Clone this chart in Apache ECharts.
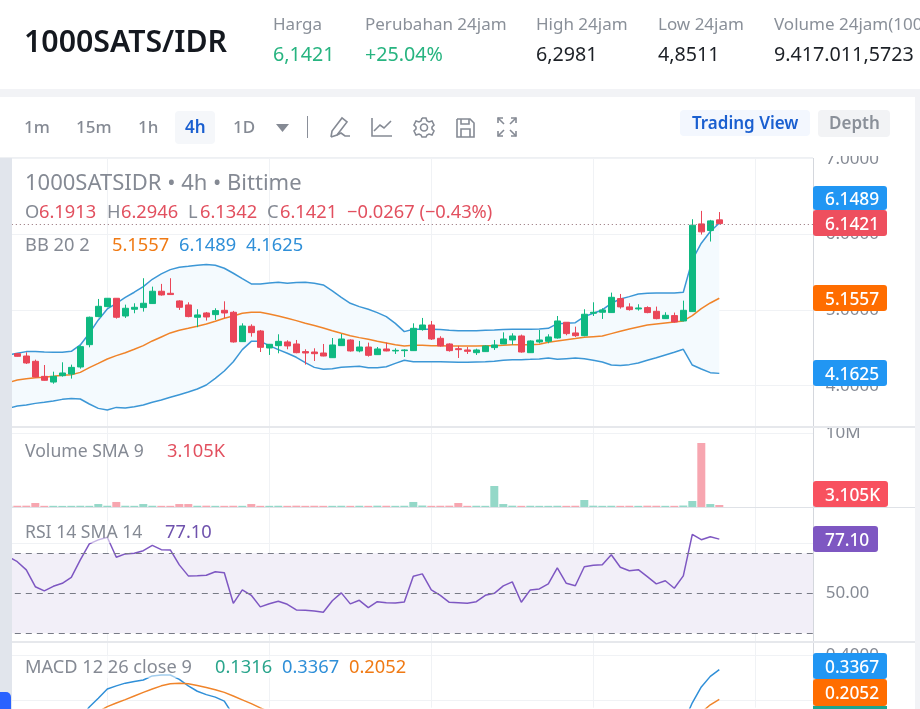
<!DOCTYPE html>
<html>
<head>
<meta charset="utf-8">
<title>1000SATS/IDR</title>
<script src="https://cdn.jsdelivr.net/npm/echarts@6/dist/echarts.min.js"></script>
<style>
  html, body { margin: 0; padding: 0; background: #fff; }
  #chart { width: 920px; height: 709px; }
</style>
</head>
<body>
<div id="chart"></div>
<script>
// 4h candles, first one is cut off by the left edge of the chart
var opens = [4.41,
  4.423, 4.392, 4.322, 4.123, 4.048, 4.132, 4.154, 4.247, 4.542, 4.913,
  5.045, 5.155, 4.921, 5.010, 5.032, 5.085, 5.248, 5.221, 5.120, 5.067,
  4.904, 4.961, 4.939, 4.996, 4.970, 4.582, 4.785, 4.723, 4.498, 4.529,
  4.578, 4.551, 4.450, 4.445, 4.432, 4.370, 4.529, 4.604, 4.459, 4.511,
  4.410, 4.485, 4.459, 4.463, 4.463, 4.741, 4.802, 4.626, 4.551, 4.489,
  4.472, 4.436, 4.450, 4.503, 4.551, 4.604, 4.657, 4.436, 4.578, 4.586,
  4.630, 4.838, 4.697, 4.661, 4.957, 4.970, 4.966, 5.151, 5.041, 5.014,
  5.032, 4.983, 4.886, 4.926, 4.855, 4.979, 6.138, 6.050, 6.1913];
var closes = [4.42,
  4.388, 4.300, 4.115, 4.071, 4.123, 4.168, 4.242, 4.516, 4.904, 5.049,
  5.155, 4.904, 5.023, 5.036, 5.089, 5.248, 5.199, 5.204, 5.036, 4.913,
  4.935, 4.908, 4.992, 4.961, 4.578, 4.789, 4.701, 4.507, 4.547, 4.586,
  4.525, 4.436, 4.432, 4.423, 4.392, 4.538, 4.617, 4.459, 4.511, 4.401,
  4.485, 4.459, 4.467, 4.472, 4.758, 4.802, 4.617, 4.525, 4.463, 4.476,
  4.454, 4.472, 4.525, 4.538, 4.617, 4.657, 4.445, 4.591, 4.604, 4.644,
  4.855, 4.688, 4.661, 4.944, 4.970, 5.001, 5.168, 5.041, 5.005, 5.027,
  4.966, 4.886, 4.930, 4.842, 4.996, 6.121, 6.033, 6.178, 6.1421];
var lows = [4.40,
  4.384, 4.287, 4.110, 4.066, 4.026, 4.119, 4.093, 4.225, 4.507, 4.904,
  5.036, 4.886, 4.895, 4.957, 4.979, 5.080, 5.190, 5.199, 5.001, 4.904,
  4.772, 4.860, 4.869, 4.895, 4.569, 4.578, 4.648, 4.445, 4.406, 4.428,
  4.481, 4.428, 4.278, 4.326, 4.388, 4.366, 4.525, 4.450, 4.441, 4.384,
  4.406, 4.454, 4.419, 4.379, 4.459, 4.727, 4.604, 4.516, 4.450, 4.366,
  4.419, 4.406, 4.445, 4.472, 4.551, 4.542, 4.436, 4.432, 4.560, 4.560,
  4.622, 4.666, 4.644, 4.653, 4.921, 4.882, 4.961, 5.018, 4.992, 4.992,
  4.957, 4.877, 4.882, 4.833, 4.851, 4.974, 5.997, 5.905, 6.1342];
var highs = [4.43,
  4.432, 4.441, 4.344, 4.273, 4.185, 4.309, 4.278, 4.533, 4.913, 5.146,
  5.155, 5.155, 5.071, 5.089, 5.420, 5.309, 5.345, 5.420, 5.129, 5.102,
  5.010, 4.974, 5.023, 5.115, 4.988, 4.824, 4.811, 4.736, 4.551, 4.679,
  4.600, 4.604, 4.481, 4.494, 4.551, 4.630, 4.683, 4.613, 4.591, 4.569,
  4.511, 4.569, 4.494, 4.481, 4.824, 4.895, 4.855, 4.653, 4.560, 4.525,
  4.511, 4.489, 4.534, 4.604, 4.705, 4.692, 4.675, 4.600, 4.736, 4.679,
  4.921, 4.838, 4.780, 5.010, 5.102, 5.023, 5.230, 5.212, 5.089, 5.076,
  5.049, 5.045, 4.970, 4.966, 5.124, 6.200, 6.310, 6.191, 6.2946];

// Bollinger bands
var bbMiddle = [4.040,
  4.075, 4.093, 4.106, 4.110, 4.123, 4.137, 4.145, 4.176, 4.238, 4.295,
  4.353, 4.397, 4.436, 4.481, 4.529, 4.591, 4.644, 4.697, 4.732, 4.758,
  4.785, 4.816, 4.851, 4.891, 4.921, 4.957, 4.970, 4.970, 4.948, 4.921,
  4.891, 4.860, 4.824, 4.794, 4.763, 4.727, 4.692, 4.661, 4.635, 4.613,
  4.586, 4.564, 4.542, 4.525, 4.533, 4.533, 4.529, 4.529, 4.525, 4.525,
  4.525, 4.525, 4.529, 4.529, 4.533, 4.542, 4.542, 4.542, 4.547, 4.573,
  4.591, 4.608, 4.622, 4.639, 4.648, 4.657, 4.688, 4.719, 4.750, 4.776,
  4.802, 4.816, 4.829, 4.842, 4.855, 4.926, 5.018, 5.093, 5.1557];
var bbUpper = [4.406,
  4.428, 4.450, 4.450, 4.445, 4.441, 4.441, 4.454, 4.538, 4.692, 4.869,
  5.014, 5.089, 5.168, 5.235, 5.309, 5.406, 5.477, 5.534, 5.565, 5.578,
  5.592, 5.600, 5.592, 5.552, 5.486, 5.415, 5.345, 5.345, 5.358, 5.367,
  5.354, 5.362, 5.367, 5.354, 5.332, 5.252, 5.168, 5.089, 5.045, 5.010,
  4.966, 4.913, 4.824, 4.714, 4.745, 4.745, 4.745, 4.741, 4.732, 4.727,
  4.727, 4.727, 4.732, 4.736, 4.741, 4.745, 4.745, 4.745, 4.750, 4.758,
  4.820, 4.824, 4.833, 4.913, 4.957, 5.001, 5.089, 5.146, 5.177, 5.212,
  5.221, 5.226, 5.226, 5.226, 5.235, 5.662, 5.883, 6.037, 6.1489];
var bbLower = [3.700,
  3.731, 3.744, 3.766, 3.780, 3.797, 3.819, 3.832, 3.824, 3.758, 3.700,
  3.678, 3.713, 3.705, 3.722, 3.744, 3.780, 3.810, 3.846, 3.881, 3.916,
  3.956, 4.009, 4.097, 4.194, 4.317, 4.476, 4.586, 4.586, 4.529, 4.476,
  4.428, 4.375, 4.304, 4.242, 4.216, 4.225, 4.242, 4.251, 4.256, 4.238,
  4.238, 4.251, 4.295, 4.335, 4.317, 4.317, 4.317, 4.317, 4.313, 4.309,
  4.309, 4.313, 4.317, 4.322, 4.335, 4.344, 4.344, 4.348, 4.353, 4.366,
  4.348, 4.357, 4.366, 4.357, 4.335, 4.313, 4.273, 4.265, 4.278, 4.300,
  4.335, 4.370, 4.406, 4.441, 4.481, 4.273, 4.220, 4.172, 4.1625];

// volume, in millions
var volumes = [0.17,
  0.17, 0.18, 0.54, 0.16, 0.16, 0.15, 0.16, 0.17, 0.16, 0.40,
  0.17, 0.68, 0.17, 0.16, 0.40, 0.17, 0.16, 0.16, 0.40, 0.40,
  0.17, 0.18, 0.16, 0.16, 0.17, 0.16, 0.40, 0.16, 0.16, 0.17,
  0.16, 0.18, 0.16, 0.17, 0.16, 0.16, 0.17, 0.16, 0.17, 0.16,
  0.18, 0.17, 0.16, 0.17, 0.68, 0.20, 0.16, 0.17, 0.18, 0.54,
  0.16, 0.17, 0.16, 2.84, 0.40, 0.18, 0.16, 0.17, 0.16, 0.16,
  0.17, 0.16, 0.17, 0.95, 0.18, 0.16, 0.17, 0.16, 0.17, 0.16,
  0.18, 0.17, 0.16, 0.16, 0.20, 0.81, 8.65, 0.40, 0.27];

var rsi = [68.3,
  65.8, 61.7, 53.3, 51.2, 53.5, 55.0, 58.0, 66.7, 74.7, 76.7,
  78.0, 68.0, 69.7, 70.0, 71.3, 74.0, 71.8, 71.7, 64.2, 58.7,
  58.8, 59.0, 60.8, 60.3, 45.0, 51.7, 49.0, 43.2, 44.8, 46.0,
  44.5, 41.7, 41.5, 41.2, 40.5, 46.3, 50.2, 44.7, 46.5, 42.8,
  45.8, 45.3, 45.2, 45.7, 58.5, 59.7, 51.7, 49.0, 45.5, 45.3,
  45.0, 45.8, 49.0, 50.0, 53.7, 55.7, 45.5, 51.7, 52.2, 54.7,
  62.7, 55.0, 53.8, 63.3, 64.0, 64.3, 69.3, 63.0, 61.3, 61.8,
  58.3, 54.7, 56.3, 52.5, 58.7, 79.5, 76.8, 78.3, 77.1];

// only the part of MACD that shows above the window edge
var macdLine = [null, null, null, null, null, null, null, null,
  0.120, 0.171, 0.210, 0.251, 0.265, 0.277, 0.284, 0.291, 0.309, 0.313, 0.313, 0.294, 0.265,
  0.241, 0.226, 0.215, 0.197, 0.135, null, null, null, null, null,
  null, null, null, null, null, null, null, null, null, null,
  null, null, null, null, null, null, null, null, null, null,
  null, null, null, null, null, null, null, null, null, null,
  null, null, null, null, null, null, null, null, null, null,
  null, null, null, null, 0.100, 0.190, 0.260, 0.307, 0.3367];
var signalLine = [null, null, null, null, null, null, null, null, null,
  null, 0.150, 0.173, 0.189, 0.204, 0.220, 0.236, 0.251, 0.265, 0.274, 0.276, 0.274,
  0.267, 0.258, 0.248, 0.236, 0.220, 0.203, 0.186, 0.167, 0.150, null,
  null, null, null, null, null, null, null, null, null, null,
  null, null, null, null, null, null, null, null, null, null,
  null, null, null, null, null, null, null, null, null, null,
  null, null, null, null, null, null, null, null, null, null,
  null, null, null, null, null, null, 0.147, 0.181, 0.2052];

// tick labels on the right side
var priceTicks = [4, 5, 6, 7];
var volumeTicks = [10000000];
var rsiTicks = [50, 75];
var macdTicks = [0.2, 0.4];

// last close, the dotted price line sits on it
var lastPrice = 6.1421;

// the axis goes on past the last candle, 90 slots in all
var categories = [];
for (var n = 0; n < 90; n++) categories.push(String(n));

var GREEN = '#0fb981';
var RED = '#ea4658';
var BLUE = '#2196f3';
var ORANGE = '#ff6d00';
var PURPLE = '#7e57c2';
var FONT = '"Noto Sans", sans-serif';
var ICON = { fill: 'none', stroke: '#858a94', lineWidth: 1.6 };

var candles = opens.map(function (o, i) {
  return [o, closes[i], lows[i], highs[i]];
});
var volumeBars = volumes.map(function (v, i) {
  return {
    value: v * 1000000,
    itemStyle: { color: closes[i] >= opens[i] ? '#94d8c8' : '#f7a6b0' }
  };
});
var bandWidth = bbUpper.map(function (u, i) { return u - bbLower[i]; });

function text(x, y, str, size, color, weight) {
  return {
    type: 'text', x: x, y: y + 2, z: 200,
    style: {
      text: str, fill: color, verticalAlign: 'middle',
      font: (weight || 'normal') + ' ' + size + 'px ' + FONT
    }
  };
}
function box(x, y, w, h, color, r, z) {
  return {
    type: 'rect', z: z || 150,
    shape: { x: x, y: y, width: w, height: h, r: r || 0 },
    style: { fill: color }
  };
}
function badge(y, h, w, color, str) {
  return [
    box(813, y, w, h, color, 3, 180),
    text(825, y + h / 2, str, 17.3, '#fff', 500)
  ];
}
// toolbar icons are built from plain polylines and circles
function stroke(x, y, points) {
  return {
    type: 'polyline', x: x, y: y, z: 200,
    shape: { points: points }, style: ICON
  };
}
function ring(x, y, r) {
  return {
    type: 'circle', z: 200,
    shape: { cx: x, cy: y, r: r }, style: ICON
  };
}

var elements = [].concat(
  // frames around the panes
  box(0, 0, 920, 156, '#fff', 0, 140),
  box(0, 89, 920, 8, '#f2f3f6', 0, 141),
  box(0, 157, 813, 1, '#eef0f3', 0, 141),
  box(0, 158, 12, 551, '#e1e5ec', 0, 141),
  box(915, 97, 5, 612, '#f2f3f6', 0, 141),
  box(813, 158, 1, 551, '#d4d7dd', 0, 141),
  box(12, 426, 903, 2, '#e6e8ec', 0, 141),
  box(12, 507, 903, 1, '#dfe2e7', 0, 141),
  box(12, 641, 903, 2, '#e6e8ec', 0, 141),
  { type: 'rect', z: 190, shape: { x: 0, y: 692, width: 11, height: 17, r: [0, 5, 0, 0] }, style: { fill: '#2962ff' } },

  // header
  text(24, 41, '1000SATS/IDR', 30.3, '#14181f', 600),
  text(273, 23.5, 'Harga', 17, '#8a9099'),
  text(273, 53.5, '6,1421', 19.7, '#27b480'),
  text(365, 23.5, 'Perubahan 24jam', 17, '#8a9099'),
  text(365, 53.5, '+25.04%', 19.7, '#27b480'),
  text(536, 23.5, 'High 24jam', 17, '#8a9099'),
  text(536, 53.5, '6,2981', 19.7, '#1c2026'),
  text(658, 23.5, 'Low 24jam', 17, '#8a9099'),
  text(658, 53.5, '4,8511', 19.7, '#1c2026'),
  text(774, 23.5, 'Volume 24jam(1000SATS)', 17, '#8a9099'),
  text(774, 53.5, '9.417.011,5723', 19.7, '#1c2026'),

  // toolbar
  text(24, 126, '1m', 17, '#858a94', 500),
  text(76, 126, '15m', 17, '#858a94', 500),
  text(138, 126, '1h', 17, '#858a94', 500),
  box(175, 111, 40, 33, '#f5f7fa', 4, 150),
  text(185, 126, '4h', 17, '#1a5fd0', 600),
  text(233, 126, '1D', 17, '#858a94', 500),
  { type: 'polygon', z: 200, shape: { points: [[276, 124], [289, 124], [282.5, 132]] }, style: { fill: '#858a94' } },
  box(307, 116, 1, 22, '#8a8f99', 0, 150),
  stroke(329, 116, [[2, 21], [3, 15], [13, 2], [18, 6], [8, 19], [2, 21]]),
  stroke(329, 116, [[8, 19], [12, 17], [16, 20], [21, 20]]),
  stroke(371, 117, [[1, 1], [1, 19], [21, 19]]),
  stroke(371, 117, [[3, 14], [9, 8], [13, 11], [20, 4]]),
  stroke(414, 117, [[8, 1], [12, 1], [13, 4], [15, 5], [18, 4], [20, 8], [18, 10], [18, 12], [20, 14], [18, 18], [15, 17], [13, 18], [12, 20], [8, 20], [7, 18], [5, 17], [2, 18], [0, 14], [2, 12], [2, 10], [0, 8], [2, 4], [5, 5], [7, 4], [8, 1]]),
  ring(424, 127.5, 3.5),
  stroke(456, 118, [[1, 1], [14, 1], [18, 5], [18, 19], [1, 19], [1, 1]]),
  stroke(456, 118, [[5, 1], [5, 6], [13, 6], [13, 1]]),
  stroke(456, 118, [[5, 19], [5, 11], [14, 11], [14, 19]]),
  stroke(497, 117, [[1, 6], [1, 1], [6, 1]]),
  stroke(497, 117, [[1, 1], [7, 7]]),
  stroke(497, 117, [[19, 6], [19, 1], [14, 1]]),
  stroke(497, 117, [[19, 1], [13, 7]]),
  stroke(497, 117, [[1, 14], [1, 19], [6, 19]]),
  stroke(497, 117, [[1, 19], [7, 13]]),
  stroke(497, 117, [[19, 14], [19, 19], [14, 19]]),
  stroke(497, 117, [[19, 19], [13, 13]]),
  box(680, 110, 130, 26, '#f3f7fe', 4, 150),
  text(692, 122, 'Trading View', 17, '#1a5fd0', 600),
  box(818, 110, 72, 27, '#f2f3f5', 4, 150),
  text(829, 122, 'Depth', 17, '#8a9099', 600),

  // legends over the panes
  text(25, 182, '1000SATSIDR \u2022 4h \u2022 Bittime', 22, '#858a94'),
  text(25, 211, 'O', 18.3, '#858a94'),
  text(39, 211, '6.1913', 18.3, '#e2505f'),
  text(107, 211, 'H', 18.3, '#858a94'),
  text(121, 211, '6.2946', 18.3, '#e2505f'),
  text(188, 211, 'L', 18.3, '#858a94'),
  text(200, 211, '6.1342', 18.3, '#e2505f'),
  text(267, 211, 'C', 18.3, '#858a94'),
  text(280, 211, '6.1421', 18.3, '#e2505f'),
  text(347, 211, '\u22120.0267 (\u22120.43%)', 18.3, '#e2505f'),
  text(25, 244, 'BB 20 2', 18.3, '#858a94'),
  text(112, 244, '5.1557', 18.3, '#f07a14'),
  text(179, 244, '6.1489', 18.3, '#2f8fd8'),
  text(246, 244, '4.1625', 18.3, '#2f8fd8'),
  text(25, 450, 'Volume SMA 9', 17.6, '#858a94'),
  text(167, 450, '3.105K', 18.3, '#e2505f'),
  box(24, 521, 190, 22, 'rgba(255,255,255,0.55)', 0, 150),
  text(25, 531, 'RSI 14 SMA 14', 17.6, '#858a94'),
  text(165, 531, '77.10', 18.3, '#6f52ad'),
  box(24, 656, 385, 22, 'rgba(255,255,255,0.55)', 0, 150),
  text(25, 666, 'MACD 12 26 close 9', 18.2, '#858a94'),
  text(215, 666, '0.1316', 18.3, '#2aa58c'),
  text(282, 666, '0.3367', 18.3, '#2f8fd8'),
  text(349, 666, '0.2052', 18.3, '#f07a14'),

  // last value tags, later ones lie on top
  badge(186, 24, 74, BLUE, '6.1489'),
  badge(210, 26, 74, '#ee4f5e', '6.1421'),
  badge(285, 26, 74, ORANGE, '5.1557'),
  badge(360, 26, 74, BLUE, '4.1625'),
  badge(481, 26, 75, '#f8515f', '3.105K'),
  badge(526, 26, 65, PURPLE, '77.10'),
  box(813, 706, 74, 3, '#1ca58c', 0, 180),
  badge(653, 26, 74, BLUE, '0.3367'),
  badge(679, 27, 74, ORANGE, '0.2052')
);

var gridRows = [[158, 268], [426, 81], [507, 134], [641, 68]];

function xAxisFor(i) {
  return {
    type: 'category', gridIndex: i, data: categories, boundaryGap: true,
    axisLine: { show: false }, axisTick: { show: false }, axisLabel: { show: false },
    splitLine: {
      show: true, alignWithLabel: true,
      interval: function (index) { return index % 18 === 11; },
      lineStyle: { color: '#f0f2f5', width: 1 }
    }
  };
}
function yAxisFor(i, min, max, ticks, fmt) {
  return {
    type: 'value', gridIndex: i, position: 'right', min: min, max: max,
    axisLine: { show: false },
    axisTick: { show: false, customValues: ticks },
    axisLabel: {
      customValues: ticks, formatter: fmt, margin: 12,
      color: '#858a94', fontSize: 17, fontFamily: FONT, showMinLabel: true, showMaxLabel: true
    },
    splitLine: { show: true, lineStyle: { color: '#f0f2f5', width: 1 } }
  };
}
function bandLine(name, data, color) {
  return {
    name: name, type: 'line', data: data, showSymbol: false, z: 3,
    lineStyle: { color: color, width: 1.5 }
  };
}
function level(v) {
  return { yAxis: v };
}

var chart = echarts.init(document.getElementById('chart'));
chart.setOption({
  animation: false,
  backgroundColor: '#fff',
  grid: gridRows.map(function (r) {
    return { left: 3.8, width: 810, top: r[0], height: r[1] };
  }),
  xAxis: [xAxisFor(0), xAxisFor(1), xAxisFor(2), xAxisFor(3)],
  yAxis: [
    yAxisFor(0, 3.467, 7.009, priceTicks, function (v) { return v.toFixed(4); }),
    yAxisFor(1, 0, 10946000, volumeTicks, function () { return '10M'; }),
    yAxisFor(2, 26.15, 93.15, rsiTicks, function (v) { return v.toFixed(2); }),
    yAxisFor(3, 0.1683, 0.4639, macdTicks, function (v) { return v.toFixed(4); })
  ],
  series: [
    // band fill is lower + (upper - lower) stacked
    {
      type: 'line', data: bbLower, stack: 'bb', showSymbol: false,
      lineStyle: { opacity: 0 }, z: 1
    },
    {
      type: 'line', data: bandWidth, stack: 'bb', showSymbol: false,
      lineStyle: { opacity: 0 }, areaStyle: { color: '#f4fafe', opacity: 1 }, z: 1
    },
    bandLine('upper', bbUpper, '#3c97d6'),
    bandLine('lower', bbLower, '#3c97d6'),
    bandLine('middle', bbMiddle, '#f0842a'),
    {
      name: 'price', type: 'candlestick', data: candles, barWidth: 7, z: 4,
      itemStyle: {
        color: GREEN, color0: RED, borderColor: GREEN, borderColor0: RED, borderWidth: 1
      },
      markLine: {
        symbol: 'none', silent: true, label: { show: false },
        lineStyle: { color: '#8f6a72', type: [1, 3], width: 1 },
        data: [level(lastPrice)]
      }
    },
    {
      name: 'volume', type: 'bar', xAxisIndex: 1, yAxisIndex: 1,
      data: volumeBars, barWidth: 8
    },
    {
      name: 'rsi', type: 'line', xAxisIndex: 2, yAxisIndex: 2, data: rsi, showSymbol: false,
      lineStyle: { color: PURPLE, width: 1.5 },
      markArea: {
        silent: true, itemStyle: { color: '#f2eff8' },
        data: [[{ yAxis: 30 }, { yAxis: 70 }]]
      },
      markLine: {
        symbol: 'none', silent: true, label: { show: false },
        lineStyle: { color: '#787b86', type: [6, 5], width: 1 },
        data: [level(70), level(50), level(30)]
      }
    },
    {
      name: 'macd', type: 'line', xAxisIndex: 3, yAxisIndex: 3, data: macdLine, showSymbol: false,
      lineStyle: { color: '#2f8fd8', width: 1.5 }
    },
    {
      name: 'signal', type: 'line', xAxisIndex: 3, yAxisIndex: 3, data: signalLine, showSymbol: false,
      lineStyle: { color: '#f0842a', width: 1.5 }
    }
  ],
  graphic: { elements: elements }
});
</script>
</body>
</html>
